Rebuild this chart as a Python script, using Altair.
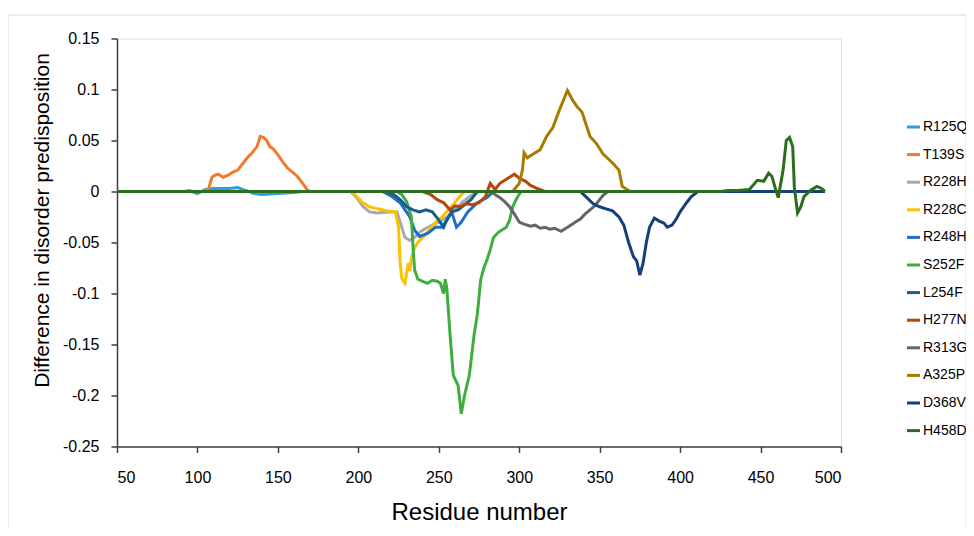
import altair as alt
import pandas as pd

series_names = ["R125Q", "T139S", "R228H", "R228C", "R248H", "S252F",
                "L254F", "H277N", "R313G", "A325P", "D368V", "H458D"]
series_colors = ["#2A9FD8", "#F47A2A", "#A9A9A9", "#FFC000", "#1F6FC6", "#3FAE3F",
                 "#155E8F", "#B4470E", "#666666", "#A87A00", "#143F7A", "#2A6E1E"]

R125Q_x = [50, 92, 95, 100, 105, 110, 120, 125, 128, 132, 135, 140, 150, 160, 165, 490]
R125Q_y = [0, 0, 0.001, -0.002, 0.002, 0.003, 0.003, 0.004, 0.002, 0, -0.002, -0.003, -0.002, -0.001, 0, 0]

T139S_x = [50, 105, 107, 109, 111, 113, 116, 119, 122, 125, 128, 131, 134, 137, 139, 141, 143, 145,
           147, 150, 153, 156, 159, 162, 165, 168, 170, 490]
T139S_y = [0, 0, 0.003, 0.014, 0.016, 0.017, 0.014, 0.016, 0.019, 0.021, 0.027, 0.033, 0.038, 0.044,
           0.054, 0.053, 0.05, 0.044, 0.042, 0.036, 0.029, 0.023, 0.019, 0.015, 0.009, 0.002, 0, 0]

R228H_x = [50, 195, 199, 203, 207, 212, 218, 224, 227, 229, 232, 235, 238, 242, 246, 250, 255,
           260, 265, 270, 275, 490]
R228H_y = [0, 0, -0.006, -0.015, -0.02, -0.021, -0.02, -0.02, -0.035, -0.045, -0.048, -0.045,
           -0.04, -0.036, -0.033, -0.03, -0.025, -0.018, -0.01, -0.004, 0, 0]

R228C_x = [50, 195, 198, 202, 207, 212, 218, 223, 225, 226, 227, 228, 229, 230, 231, 232, 233,
           235, 237, 240, 244, 248, 252, 256, 260, 263, 266, 490]
R228C_y = [0, 0, -0.003, -0.01, -0.015, -0.017, -0.019, -0.02, -0.035, -0.07, -0.085, -0.088,
           -0.09, -0.08, -0.07, -0.078, -0.065, -0.055, -0.05, -0.045, -0.038, -0.03, -0.025,
           -0.018, -0.011, -0.005, 0, 0]

R248H_x = [50, 215, 220, 226, 232, 235, 238, 243, 248, 252, 255, 258, 261, 264, 268, 274, 280, 284, 490]
R248H_y = [0, 0, -0.004, -0.011, -0.025, -0.038, -0.044, -0.041, -0.035, -0.035, -0.028, -0.02,
           -0.035, -0.03, -0.02, -0.011, -0.006, 0, 0]

S252F_x = [50, 224, 227, 230, 233, 234, 235, 237, 240, 243, 246, 249, 251, 253, 254, 255, 257,
           259, 262, 264, 266, 269, 272, 274, 276, 278, 280, 282, 284, 287, 292, 294, 296, 298, 301, 490]
S252F_y = [0, 0, -0.003, -0.01, -0.025, -0.055, -0.077, -0.086, -0.088, -0.09, -0.087, -0.088,
           -0.09, -0.1, -0.086, -0.095, -0.14, -0.18, -0.19, -0.218, -0.2, -0.18, -0.14, -0.12,
           -0.087, -0.075, -0.067, -0.057, -0.045, -0.04, -0.035, -0.028, -0.015, -0.008, 0, 0]

L254F_x = [50, 218, 222, 226, 230, 234, 238, 242, 246, 250, 253, 255, 258, 262, 266, 270, 274, 490]
L254F_y = [0, 0, -0.003, -0.008, -0.015, -0.018, -0.02, -0.018, -0.02, -0.028, -0.035, -0.028,
           -0.02, -0.018, -0.013, -0.008, 0, 0]

H277N_x = [50, 240, 245, 249, 253, 257, 260, 263, 267, 271, 275, 279, 282, 285, 288, 291, 294,
           297, 300, 304, 307, 311, 316, 490]
H277N_y = [0, 0, -0.003, -0.008, -0.011, -0.018, -0.014, -0.015, -0.012, -0.013, -0.011, -0.005,
           0.008, 0.002, 0.008, 0.011, 0.014, 0.017, 0.013, 0.01, 0.006, 0.003, 0, 0]

R313G_x = [50, 280, 284, 288, 291, 294, 297, 300, 303, 307, 310, 313, 316, 319, 322, 326, 329,
           332, 335, 338, 341, 344, 347, 350, 352, 355, 490]
R313G_y = [0, 0, -0.002, -0.006, -0.01, -0.015, -0.022, -0.03, -0.032, -0.034, -0.033, -0.036,
           -0.035, -0.037, -0.036, -0.039, -0.036, -0.033, -0.03, -0.027, -0.022, -0.018, -0.014,
           -0.008, -0.004, 0, 0]

A325P_x = [50, 296, 300, 302, 303, 305, 308, 313, 317, 321, 325, 330, 333, 336, 339, 344, 348,
           352, 358, 362, 364, 369, 490]
A325P_y = [0, 0, 0.008, 0.021, 0.038, 0.033, 0.036, 0.041, 0.054, 0.063, 0.08, 0.099, 0.09, 0.083,
           0.078, 0.054, 0.047, 0.037, 0.028, 0.021, 0.005, 0, 0]

D368V_x = [50, 338, 342, 346, 350, 354, 358, 362, 365, 368, 371, 373, 375, 377, 379, 381, 384,
           387, 390, 392, 395, 398, 400, 404, 407, 411, 490]
D368V_y = [0, 0, -0.006, -0.012, -0.015, -0.017, -0.019, -0.025, -0.033, -0.05, -0.064, -0.068,
           -0.082, -0.07, -0.05, -0.035, -0.026, -0.029, -0.031, -0.035, -0.033, -0.026, -0.02,
           -0.011, -0.005, 0, 0]

H458D_x = [50, 425, 430, 436, 443, 448, 452, 455, 457, 459, 461, 464, 466, 468, 470, 471, 473,
           475, 477, 481, 485, 488, 490]
H458D_y = [0, 0, 0.001, 0.001, 0.002, 0.011, 0.01, 0.018, 0.015, 0.004, -0.006, 0.021, 0.05,
           0.053, 0.044, 0.004, -0.021, -0.015, -0.005, 0.001, 0.005, 0.003, 0]

all_x = [R125Q_x, T139S_x, R228H_x, R228C_x, R248H_x, S252F_x,
         L254F_x, H277N_x, R313G_x, A325P_x, D368V_x, H458D_x]
all_y = [R125Q_y, T139S_y, R228H_y, R228C_y, R248H_y, S252F_y,
         L254F_y, H277N_y, R313G_y, A325P_y, D368V_y, H458D_y]

x_ticks = [50, 100, 150, 200, 250, 300, 350, 400, 450, 500]
y_ticks = [-0.25, -0.2, -0.15, -0.1, -0.05, 0, 0.05, 0.1, 0.15]

rows = []
for k, (name, xs, ys) in enumerate(zip(series_names, all_x, all_y)):
    for i, (xv, yv) in enumerate(zip(xs, ys)):
        rows.append({"series": name, "order": k, "idx": i, "residue": xv, "value": yv})
df = pd.DataFrame(rows)

FONT = "Liberation Sans"
W, H = 724, 408

lines = alt.Chart(df).mark_line(strokeWidth=3, clip=True).encode(
    x=alt.X("residue:Q",
            scale=alt.Scale(domain=[50, 500], nice=False, zero=False),
            axis=alt.Axis(values=x_ticks, title="Residue number", grid=False,
                          labelFontSize=16, titleFontSize=24, titleFontWeight="normal",
                          labelFont=FONT, titleFont=FONT, labelColor="#000000", titleColor="#000000",
                          domainColor="#404040", domainWidth=1.5, tickColor="#404040",
                          tickWidth=1.5, tickSize=6, labelPadding=17,
                          titleBaseline="middle", titleY=66, titleX=W / 2)),
    y=alt.Y("value:Q",
            scale=alt.Scale(domain=[-0.25, 0.15], nice=False, zero=False),
            axis=alt.Axis(values=y_ticks, title="Difference in disorder predisposition", grid=False,
                          labelExpr="'' + datum.value",
                          labelFontSize=16, titleFontSize=21, titleFontWeight="normal",
                          labelFont=FONT, titleFont=FONT, labelColor="#000000", titleColor="#000000",
                          domainColor="#404040", domainWidth=1.5, tickColor="#404040",
                          tickWidth=1.5, tickSize=6, labelPadding=12,
                          titleAngle=-90, titleBaseline="middle", titleX=-75, titleY=181.5)),
    color=alt.Color("series:N",
                    scale=alt.Scale(domain=series_names, range=series_colors),
                    sort=series_names,
                    legend=alt.Legend(title=None, orient="none", legendX=788, legendY=80,
                                      symbolType="stroke", symbolStrokeWidth=3, symbolSize=170,
                                      labelFontSize=14, labelFont=FONT, labelColor="#000000",
                                      rowPadding=11.6, labelOffset=1, labelLimit=60)),
    order=alt.Order("idx:Q"),
    detail="series:N",
)

border = alt.Chart(pd.DataFrame({"a": [0]})).mark_rect(
    fill=None, stroke="#D9D9D9", strokeWidth=1, clip=False
).encode(x=alt.value(-109), x2=alt.value(849), y=alt.value(-23.5), y2=alt.value(530))

chart = alt.layer(border, lines).properties(
    width=W, height=H,
    autosize=alt.AutoSizeParams(type="none"),
    padding={"left": 109, "top": 30.5, "right": 125, "bottom": 81.5},
).configure_view(stroke=None).configure(background="white")

chart.save("out.html", embed_options={"renderer": "svg", "actions": False})
